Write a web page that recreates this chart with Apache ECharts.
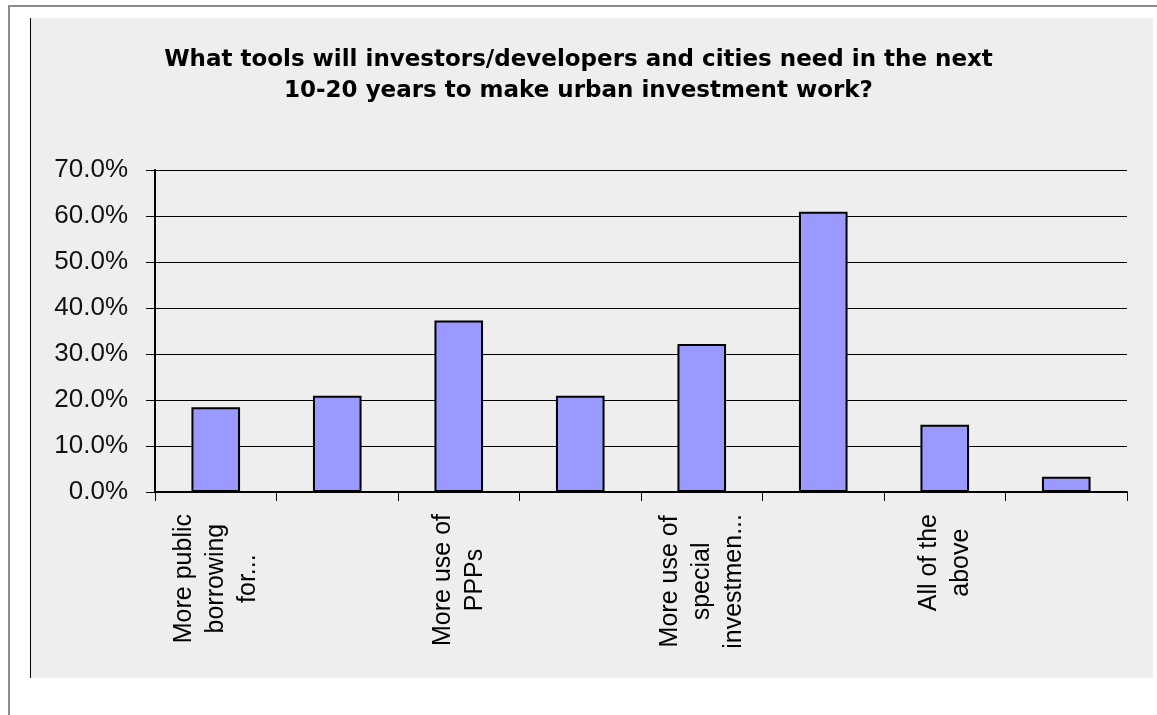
<!DOCTYPE html>
<html>
<head>
<meta charset="utf-8">
<script src="https://cdn.jsdelivr.net/npm/echarts@6/dist/echarts.min.js"></script>
<style>
  html, body { margin: 0; padding: 0; background: #ffffff; }
  body { width: 1157px; height: 715px; position: relative; overflow: hidden; }
  #frame { position: absolute; left: 8px; top: 5px; width: 1149px; height: 710px;
           border-top: 2px solid #8c8c8c; border-left: 2px solid #8c8c8c; box-sizing: border-box; }
  #panel { position: absolute; left: 30px; top: 18px; width: 1123px; height: 660px;
           background: #eeeeee; border-left: 1px solid #000; box-sizing: border-box; }
  #chart { position: absolute; left: 0; top: 0; width: 1157px; height: 715px; }
</style>
</head>
<body>
<div id="frame"></div>
<div id="panel"></div>
<div id="chart"></div>
<script>
const titleText = 'What tools will investors/developers and cities need in the next\n10-20 years to make urban investment work?';
const categories = [
  'More public\nborrowing\nfor...',
  '',
  'More use of\nPPPs',
  '',
  'More use of\nspecial\ninvestmen...',
  '',
  'All of the\nabove',
  ''
];
const values = [18.4, 20.9, 37.3, 20.9, 32.2, 60.9, 14.6, 3.3];
const yTicks = { min: 0, max: 70, interval: 10 };

const chart = echarts.init(document.getElementById('chart'), null, { renderer: 'canvas' });
chart.setOption({
  backgroundColor: 'transparent',
  animation: false,
  title: {
    text: titleText,
    left: 'center',
    top: 40,
    textStyle: {
      fontFamily: 'DejaVu Sans',
      fontWeight: 'bold',
      fontSize: 23,
      lineHeight: 31,
      color: '#000'
    }
  },
  grid: { left: 155, right: 30, top: 170, bottom: 223, containLabel: false },
  xAxis: {
    type: 'category',
    data: categories,
    boundaryGap: true,
    axisLine: { show: true, lineStyle: { color: '#000', width: 2 } },
    axisTick: { show: true, interval: 0, length: 9, lineStyle: { color: '#000', width: 1 } },
    axisLabel: {
      interval: 0,
      rotate: 90,
      margin: 22,
      color: '#000',
      fontFamily: 'Liberation Sans',
      fontSize: 25,
      lineHeight: 32,
      formatter: function (v) {
        if (!v) return '';
        return v.split('\n').map(function (l) { return '{c|' + l + '}'; }).join('\n');
      },
      rich: {
        c: { align: 'center', fontFamily: 'Liberation Sans', fontSize: 25, lineHeight: 32, color: '#000' }
      }
    },
    splitLine: { show: false }
  },
  yAxis: {
    type: 'value',
    min: yTicks.min,
    max: yTicks.max,
    interval: yTicks.interval,
    axisLine: { show: true, lineStyle: { color: '#000', width: 2 } },
    axisTick: { show: true, length: 9, lineStyle: { color: '#000', width: 1 } },
    axisLabel: {
      margin: 27,
      color: '#111',
      fontFamily: 'Liberation Sans',
      fontSize: 26,
      formatter: function (v) { return v.toFixed(1) + '%'; }
    },
    splitLine: { show: true, lineStyle: { color: '#000', width: 1 } }
  },
  series: [{
    type: 'bar',
    data: values,
    barWidth: '40%',
    itemStyle: { color: '#9999ff', borderColor: '#000', borderWidth: 2 }
  }]
});
</script>
</body>
</html>
